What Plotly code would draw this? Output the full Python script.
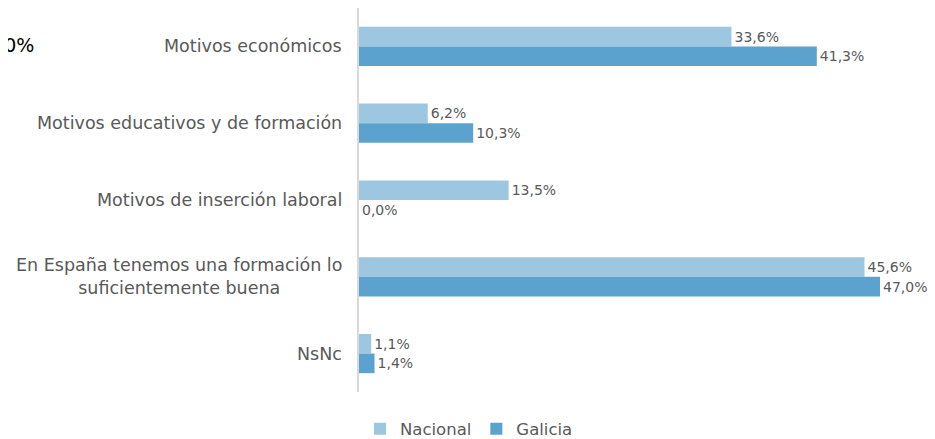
import plotly.graph_objects as go

categories = [
    "Motivos económicos",
    "Motivos educativos y de formación",
    "Motivos de inserción laboral",
    "En España tenemos una formación lo<br>suficientemente buena",
    "NsNc",
]
nacional = [33.6, 6.2, 13.5, 45.6, 1.1]
galicia = [41.3, 10.3, 0.0, 47.0, 1.4]
series_names = ["Nacional", "Galicia"]
colors = ["#9DC6E0", "#5BA3CE"]

def fmt(v):
    return f"{v:.1f}".replace(".", ",") + "%"

FONT = "DejaVu Sans"
GRAY = "#595959"

# page body has an 8px margin
OFF = 8
W, H = 935 - OFF, 439 - OFF
L = 359 - OFF
T = 8 - OFF
R = 6
B = H - (392 - OFF)
pw = W - L - R
ph = H - T - B
px_per_pct = (880 - 359) / 47.0
xmax = pw / px_per_pct

fig = go.Figure()
for name, vals, col in zip(series_names, [nacional, galicia], colors):
    fig.add_trace(go.Bar(
        y=categories, x=vals, name=name, orientation="h",
        marker=dict(color=col, line=dict(width=0)),
        text=[fmt(v) for v in vals], textposition="outside",
        textfont=dict(family=FONT, size=14, color=GRAY),
        constraintext="none", cliponaxis=False,
    ))

fig.update_layout(
    width=W, height=H,
    margin=dict(l=L, r=R, t=T, b=B, autoexpand=False),
    barmode="group", bargap=0.49, bargroupgap=0,
    plot_bgcolor="white", paper_bgcolor="white",
    font=dict(family=FONT, size=15, color=GRAY),
    xaxis=dict(range=[0, xmax], visible=False, fixedrange=True, automargin=False),
    yaxis=dict(autorange="reversed", showticklabels=False, showline=True,
               linecolor="#D9D9D9", linewidth=2, ticks="", showgrid=False,
               zeroline=False, automargin=False),
    legend=dict(orientation="h", x=(469 - OFF) / W, xref="container", xanchor="center",
                y=(H - (429 - OFF)) / H, yref="container", yanchor="middle",
                font=dict(family=FONT, size=16.5, color=GRAY),
                itemwidth=30, traceorder="normal"),
    showlegend=True,
)

for c in categories:
    fig.add_annotation(x=0, xref="paper", y=c, yref="y", text=c,
                       xanchor="right", xshift=-15, align="center",
                       showarrow=False,
                       font=dict(family=FONT, size=17.5, color=GRAY))

fig.add_annotation(x=(36 - OFF - L) / pw, xref="paper", y=1 - (45 - OFF - T) / ph,
                   yref="paper", text="50,0%", xanchor="right", yanchor="middle",
                   showarrow=False, font=dict(family=FONT, size=19, color="#000000"))

fig.write_html("out.html")
